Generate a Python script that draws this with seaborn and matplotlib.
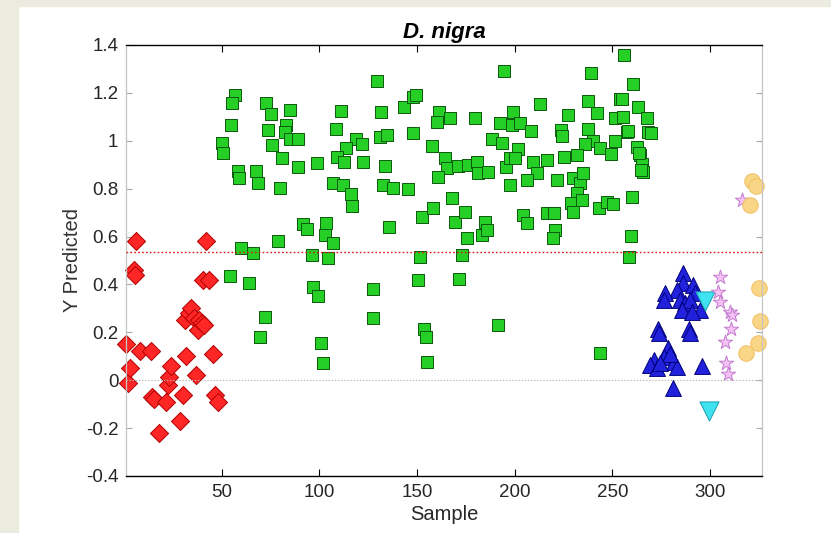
import matplotlib
matplotlib.use("Agg")
import matplotlib.pyplot as plt
from matplotlib.patches import Rectangle
import seaborn as sns

# ---------------- data ----------------
red_x = [1, 2, 3, 5, 5.5, 6, 8, 14, 14.5, 15.5, 18, 21.5, 22.5, 23, 24, 28.5, 30,
         31.5, 31, 33, 34.5, 36, 37, 38, 38.5, 40, 41, 40.5, 42, 43.5, 45.5, 46.5, 48]
red_y = [0.15, -0.01, 0.05, 0.46, 0.44, 0.58, 0.12, 0.12, -0.07, -0.08, -0.22, -0.09,
         -0.02, 0.015, 0.06, -0.17, -0.06, 0.10, 0.25, 0.28, 0.30, 0.26, 0.02, 0.21,
         0.25, 0.24, 0.23, 0.42, 0.58, 0.42, 0.11, -0.06, -0.09]

green_x = [129.6, 56.7, 55.5, 72.6, 75, 84.9, 110.9, 131.5, 143.3, 55, 73.8, 82.9,
           82.3, 84.9, 89.2, 75.9, 49.9, 50.8, 108.5, 119, 121.6, 113.6, 131, 134.8,
           108.8, 112.6, 122.5, 80.8, 89.2, 98.6, 133.6, 58.1, 59, 67.5, 68.7, 79.8,
           107.1, 111.9, 116, 116.5, 132.4, 137.8, 91.4, 93.8, 103.3, 102.8,
           106.8, 135.8, 78.9, 60.1, 65.8, 96, 104.5, 54.2, 64.1, 96.9, 99.4, 127.6,
           72.1, 127.6, 69.5, 100.8, 102,
           256, 194.7, 239, 260.7, 148, 149.7, 212.9, 237.7, 253.9, 263.3, 161.4,
           160, 166.8, 179.6, 199.3, 198.4, 202.7, 192.4, 208.1, 227.4, 223.5, 224.4,
           242.3, 251.3, 255.6, 267.6, 268.4, 257.3, 237.3, 148, 157.8, 188.2, 193.3,
           240.2, 243.7, 249.1, 251.3, 236, 262.4, 264.2, 265, 265.9, 164.2, 165.1,
           160.8, 171.1, 176.2, 180.5, 181.3, 186.5, 195.5, 197.6, 201.8, 200.1,
           209.5, 211.2, 216.3, 206.1, 225.2, 231.7, 197.6, 221.8, 229.7,
           233.4, 235.1, 231.7, 145.5, 167.7, 152.3, 158.3, 169.4, 174.5, 184.7,
           183.5, 185.6, 204.4, 206.1, 216.7, 220.1, 220.6, 219.4, 228.6, 234.3,
           229.7, 243.1, 247.1, 250.5, 260.2, 175.7, 259.4, 151.4, 172.8, 258.3,
           150.6, 171.6, 191.2, 153.5, 154.5, 155.2, 243.7, 269.8, 254.8, 258,
           263.5, 264.5]
green_y = [1.251, 1.191, 1.159, 1.156, 1.112, 1.128, 1.124, 1.120, 1.142, 1.064, 1.045,
           1.066, 1.038, 1.006, 1.006, 0.982, 0.989, 0.950, 1.049, 1.006, 0.986, 0.968,
           1.014, 1.024, 0.931, 0.913, 0.913, 0.926, 0.889, 0.906, 0.894, 0.875, 0.846,
           0.875, 0.825, 0.804, 0.825, 0.815, 0.778, 0.727, 0.815, 0.801, 0.652,
           0.630, 0.655, 0.606, 0.571, 0.641, 0.583, 0.551, 0.530, 0.523, 0.509, 0.435,
           0.407, 0.390, 0.351, 0.379, 0.262, 0.258, 0.179, 0.154, 0.074,
           1.358, 1.291, 1.284, 1.236, 1.184, 1.191, 1.152, 1.166, 1.173, 1.142,
           1.121, 1.080, 1.094, 1.094, 1.121, 1.066, 1.075, 1.073, 1.041, 1.107, 1.045,
           1.020, 1.117, 1.094, 1.101, 1.094, 1.038, 1.038, 1.048, 1.034, 0.979, 1.006,
           0.989, 1.0, 0.968, 0.945, 1.0, 0.986, 0.975, 0.94, 0.905, 0.87, 0.926, 0.885,
           0.85, 0.894, 0.899, 0.913, 0.864, 0.871, 0.892, 0.926, 0.964, 0.926,
           0.913, 0.867, 0.92, 0.836, 0.931, 0.94, 0.815, 0.836, 0.843,
           0.822, 0.864, 0.78, 0.797, 0.763, 0.683, 0.72, 0.662, 0.704, 0.662,
           0.606, 0.627, 0.69, 0.655, 0.697, 0.7, 0.627, 0.592, 0.739, 0.752,
           0.704, 0.718, 0.745, 0.736, 0.766, 0.592, 0.603, 0.513, 0.523, 0.513,
           0.418, 0.421, 0.229, 0.212, 0.179, 0.077, 0.112, 1.033, 1.175, 1.04,
           0.95, 0.88]

blue_x = [286.1, 286.4, 283, 291.5, 292.4, 277, 276.2, 284.7, 287.3, 289.8, 285.6,
          295, 290.7, 273.6, 274.1, 289, 289.8, 278.7, 276.2, 271.1, 281.3, 269.3,
          272.8, 283, 295.8, 281, 279.5, 274.5]
blue_y = [0.446, 0.404, 0.377, 0.398, 0.363, 0.363, 0.335, 0.335, 0.321, 0.335, 0.293,
          0.293, 0.286, 0.216, 0.196, 0.216, 0.196, 0.133, 0.098, 0.084, 0.077, 0.063,
          0.049, 0.056, 0.059, -0.034, 0.11, 0.07]

cyan_x = [297.5, 299.5]
cyan_y = [0.33, -0.13]

star_x = [305, 304, 305, 310, 311, 310.5, 307.5, 308, 309, 316.5]
star_y = [0.432, 0.37, 0.328, 0.286, 0.272, 0.216, 0.161, 0.07, 0.028, 0.752]

circ_x = [321.5, 323.6, 320.5, 325.3, 325.5, 324.5, 318.5]
circ_y = [0.83, 0.81, 0.73, 0.384, 0.248, 0.154, 0.112]

threshold = 0.535
x_ticks = [50, 100, 150, 200, 250, 300]
y_ticks = [-0.4, -0.2, 0, 0.2, 0.4, 0.6, 0.8, 1.0, 1.2, 1.4]
y_tick_labels = ['-0.4', '-0.2', '0', '0.2', '0.4', '0.6', '0.8', '1', '1.2', '1.4']
title = 'D. nigra'
x_label = 'Sample'
y_label = 'Y Predicted'

# ---------------- figure ----------------
sns.set_style("white")
plt.rcParams['font.family'] = ['Liberation Sans', 'DejaVu Sans']

W, H = 831, 533
fig = plt.figure(figsize=(W / 100, H / 100), dpi=100, facecolor='white')
fig.patches.append(Rectangle((0, 0), 18 / W, 1, transform=fig.transFigure,
                             color='#ebebe0', zorder=-10))
fig.patches.append(Rectangle((0, 1 - 6 / H), 1, 6 / H, transform=fig.transFigure,
                             color='#ebebe0', zorder=-10))

ax = fig.add_axes([126 / W, 1 - 476 / H, (762 - 126) / W, (476 - 45) / H])

groups = [
    (red_x, red_y, 'D', 85, '#ff2626', '#b00000'),
    (green_x, green_y, 's', 78, '#25cf25', '#0b5a0b'),
    (blue_x, blue_y, '^', 130, '#2222dd', '#00007a'),
    (cyan_x, cyan_y, 'v', 190, '#3fe3ef', '#1a9fb0'),
    (star_x, star_y, '*', 115, '#f6c2f4', '#c27ad0'),
    (circ_x, circ_y, 'o', 125, '#f9d586', '#efc065'),
]
for gx, gy, mk, sz, fc, ec in groups:
    sns.scatterplot(x=gx, y=gy, marker=mk, s=sz, color=fc, edgecolor=ec,
                    linewidth=0.7, ax=ax, clip_on=False, zorder=2, legend=False)

ax.axhline(threshold, color='#e01515', lw=1.0, ls=(0, (1.2, 1.6)), zorder=3)
ax.axhline(0, color='#b5b5b5', lw=0.8, ls=(0, (1.2, 1.6)), zorder=3)

ax.set_xlim(1, 326.6)
ax.set_ylim(-0.4, 1.4)
ax.set_xticks(x_ticks)
ax.set_xticklabels([str(t) for t in x_ticks])
ax.set_yticks(y_ticks)
ax.set_yticklabels(y_tick_labels)

for side in ['top', 'bottom']:
    ax.spines[side].set_color('black')
    ax.spines[side].set_linewidth(1.0)
for side in ['left', 'right']:
    ax.spines[side].set_color('#c4c4c4')
    ax.spines[side].set_linewidth(0.9)

ax.tick_params(axis='x', which='both', direction='in', top=True, bottom=True,
               length=5, width=0.8, color='black', labelsize=13.5,
               labelcolor='#262626', pad=6)
ax.tick_params(axis='y', which='both', direction='in', left=True, right=True,
               length=4, width=0.8, color='#a8a8a8', labelsize=13.5,
               labelcolor='#262626', pad=5.5)

ax.set_xlabel(x_label, fontsize=14.5, color='#262626', labelpad=3)
ax.set_ylabel(y_label, fontsize=14.5, color='#333333', labelpad=3)
ax.set_title(title, fontsize=16, fontweight='bold', fontstyle='italic',
             color='black', pad=5)

fig.savefig('out.png', dpi=100, facecolor='white')
